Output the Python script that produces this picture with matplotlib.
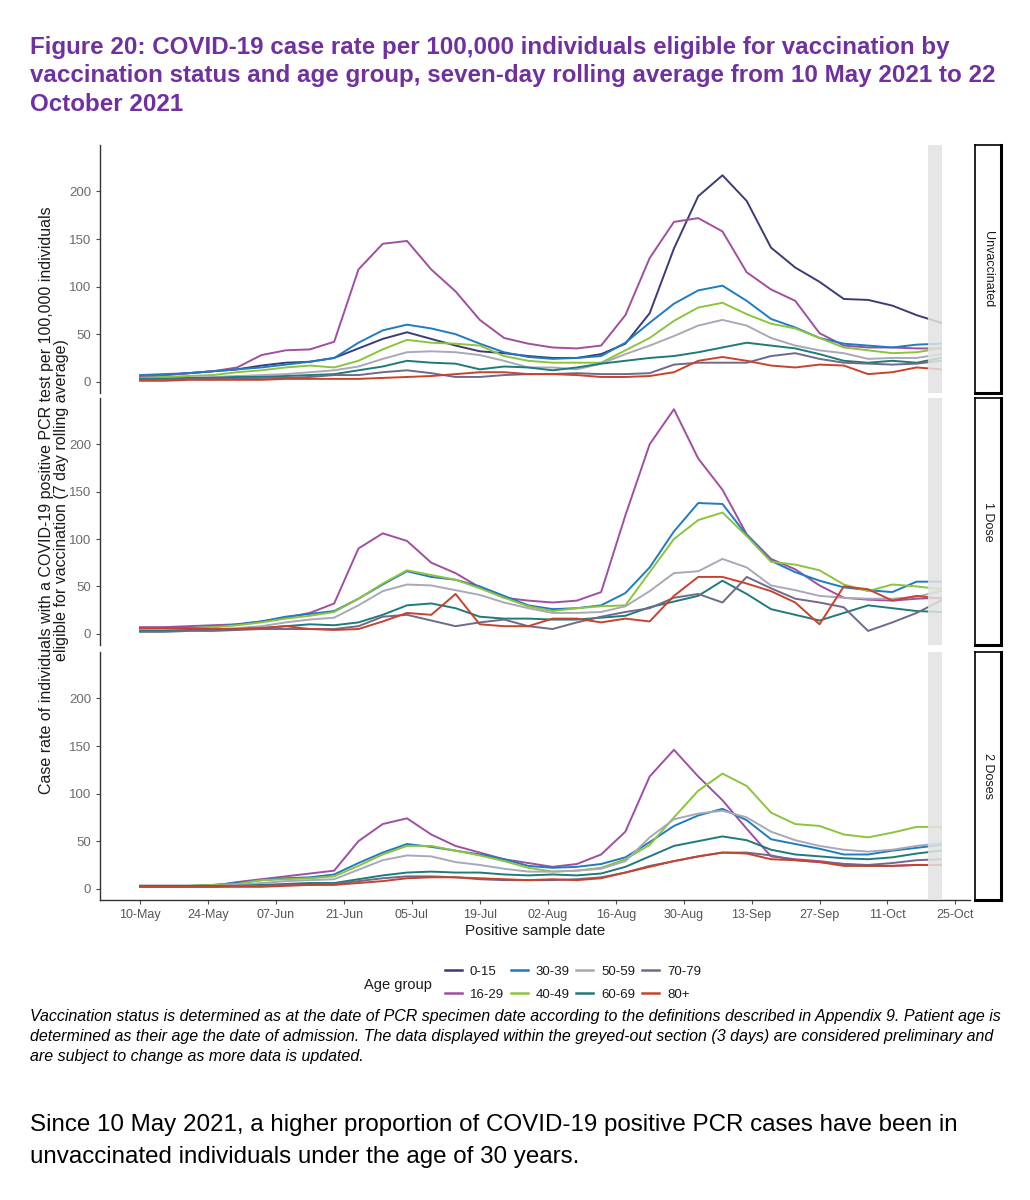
import matplotlib
matplotlib.use("Agg")
import matplotlib.pyplot as plt
import matplotlib.dates as mdates
from matplotlib.lines import Line2D
import pandas as pd
import numpy as np

plt.rcParams['font.family'] = ['Liberation Sans', 'DejaVu Sans']

# positive sample dates, every 5 days from 10 May to 22 Oct 2021
dates = pd.date_range('2021-05-10', '2021-10-22', freq='5D')

age_groups = ['0-15', '16-29', '30-39', '40-49', '50-59', '60-69', '70-79', '80+']
colours = ['#3B3B78', '#A04FA0', '#1F7BC2', '#8CC43C', '#A8A8B8', '#1F7A7A', '#6E6A8A', '#C8432B']
panels = ['Unvaccinated', '1 Dose', '2 Doses']

# ---- Unvaccinated ----
unvax = {
    '0-15':  [5, 7, 9, 11, 13, 17, 20, 21, 25, 35, 45, 52, 45, 38, 32, 30, 27, 25, 25, 29, 40,
              72, 140, 195, 217, 190, 141, 120, 105, 87, 86, 80, 70, 62],
    '16-29': [5, 7, 9, 11, 15, 28, 33, 34, 42, 118, 145, 148, 118, 95, 65, 46, 40, 36, 35, 38, 70,
              130, 168, 172, 158, 115, 97, 85, 51, 38, 36, 36, 35, 35],
    '30-39': [7, 8, 9, 11, 13, 15, 18, 21, 25, 41, 54, 60, 56, 50, 40, 31, 26, 24, 25, 27, 41,
              62, 82, 96, 101, 85, 66, 57, 46, 40, 38, 36, 39, 40],
    '40-49': [4, 5, 6, 7, 10, 12, 15, 17, 15, 22, 34, 44, 41, 40, 38, 27, 22, 20, 20, 20, 33,
              46, 64, 78, 83, 71, 61, 56, 46, 36, 33, 30, 31, 35],
    '50-59': [3, 3, 4, 5, 6, 7, 8, 10, 12, 16, 24, 31, 32, 31, 28, 22, 15, 15, 13, 19, 29,
              38, 48, 59, 65, 59, 46, 38, 33, 30, 24, 25, 25, 29],
    '60-69': [3, 3, 4, 4, 5, 5, 6, 7, 8, 12, 16, 22, 20, 19, 13, 16, 15, 12, 15, 19, 22,
              25, 27, 31, 36, 41, 38, 35, 29, 22, 20, 22, 20, 25],
    '70-79': [2, 2, 3, 3, 3, 4, 4, 5, 7, 7, 10, 12, 9, 5, 5, 7, 8, 8, 9, 8, 8,
              9, 18, 20, 20, 20, 27, 30, 24, 20, 19, 18, 19, 22],
    '80+':   [1, 1, 2, 2, 2, 2, 3, 3, 3, 3, 4, 5, 6, 8, 10, 10, 8, 8, 7, 5, 5,
              6, 10, 22, 26, 22, 17, 15, 18, 17, 8, 10, 15, 13],
}

# ---- 1 Dose ----
dose1 = {
    '16-29': [7, 7, 8, 9, 10, 13, 17, 22, 32, 90, 106, 98, 75, 64, 49, 38, 35, 33, 35, 44, 125,
              200, 237, 185, 152, 105, 79, 68, 51, 38, 36, 35, 37, 38],
    '30-39': [5, 5, 6, 7, 10, 13, 18, 21, 24, 37, 52, 66, 60, 57, 50, 40, 30, 26, 27, 30, 43,
              70, 108, 138, 137, 104, 77, 65, 56, 49, 46, 44, 55, 55],
    '40-49': [5, 5, 6, 7, 9, 12, 16, 19, 23, 37, 53, 67, 62, 57, 48, 38, 29, 24, 27, 29, 30,
              65, 100, 120, 128, 103, 76, 73, 67, 52, 45, 52, 50, 47],
    '50-59': [3, 4, 4, 5, 6, 8, 12, 15, 17, 30, 45, 52, 51, 46, 41, 33, 27, 22, 22, 23, 29,
              45, 64, 66, 79, 70, 51, 46, 40, 38, 37, 37, 39, 45],
    '60-69': [3, 3, 4, 4, 5, 6, 8, 10, 9, 12, 20, 30, 32, 27, 18, 16, 16, 15, 15, 17, 19,
              28, 34, 40, 56, 42, 26, 20, 14, 22, 30, 27, 24, 23],
    '70-79': [2, 2, 3, 3, 4, 5, 5, 5, 5, 8, 18, 20, 14, 8, 12, 15, 8, 5, 12, 18, 23,
              27, 38, 42, 33, 60, 48, 37, 33, 28, 3, 12, 22, 35],
    '80+':   [6, 6, 6, 5, 5, 6, 8, 5, 4, 5, 13, 22, 20, 42, 10, 8, 8, 16, 16, 12, 16,
              13, 40, 60, 60, 53, 45, 33, 10, 50, 47, 35, 40, 37],
}

# ---- 2 Doses ----
dose2 = {
    '16-29': [3, 3, 3, 3, 7, 10, 13, 16, 19, 50, 68, 74, 57, 45, 38, 31, 27, 23, 26, 36, 60,
              118, 146, 118, 93, 63, 34, 31, 29, 26, 24, 24, 25, 25],
    '30-39': [3, 3, 3, 4, 6, 9, 11, 12, 15, 27, 38, 47, 44, 40, 36, 31, 24, 22, 23, 26, 33,
              49, 66, 77, 84, 72, 52, 47, 42, 36, 36, 40, 43, 46],
    '40-49': [3, 3, 3, 4, 5, 9, 10, 11, 13, 24, 36, 45, 45, 40, 35, 29, 22, 18, 19, 22, 31,
              46, 75, 103, 121, 108, 80, 68, 66, 57, 54, 59, 65, 65],
    '50-59': [3, 3, 3, 3, 4, 6, 8, 9, 10, 20, 30, 35, 34, 28, 25, 21, 18, 18, 19, 21, 29,
              54, 73, 79, 82, 75, 60, 51, 45, 41, 39, 41, 45, 48],
    '60-69': [3, 3, 3, 3, 3, 4, 5, 6, 6, 10, 14, 17, 18, 17, 17, 15, 14, 15, 14, 16, 23,
              34, 45, 50, 55, 51, 41, 36, 34, 32, 31, 33, 37, 40],
    '70-79': [2, 2, 2, 2, 3, 3, 4, 4, 5, 8, 11, 13, 13, 12, 10, 9, 9, 9, 10, 12, 17,
              24, 29, 34, 38, 38, 35, 30, 28, 26, 25, 27, 30, 31],
    '80+':   [2, 2, 2, 2, 2, 2, 3, 4, 4, 6, 8, 11, 12, 12, 11, 10, 9, 10, 9, 11, 17,
              23, 29, 34, 38, 37, 31, 30, 28, 24, 24, 24, 25, 25],
}

panel_data = [unvax, dose1, dose2]

xticks = pd.date_range('2021-05-10', '2021-10-25', freq='14D')
grey_start = pd.Timestamp('2021-10-19 07:00')
grey_end = pd.Timestamp('2021-10-22 05:00')

W, H = 1030, 1200
fig = plt.figure(figsize=(W / 100, H / 100), dpi=100)

def box(x0, y0, x1, y1):
    # pixel box (top-left origin) -> figure fraction rect
    return [x0 / W, 1 - y1 / H, (x1 - x0) / W, (y1 - y0) / H]

panel_px = [(145, 393), (398, 645), (652, 900)]
x0 = pd.Timestamp('2021-05-10')
xmin = mdates.date2num(x0) - 8.25
xmax = mdates.date2num(x0) + 171

axes = []
for i, (top, bot) in enumerate(panel_px):
    ax = fig.add_axes(box(100, top, 970, bot))
    data = panel_data[i]
    for ag, col in zip(age_groups, colours):
        if ag in data:
            ax.plot(dates, data[ag], color=col, lw=1.4, solid_joinstyle='round')
    ax.axvspan(grey_start, grey_end, color='#E2E2E2', alpha=0.85, lw=0, zorder=5)
    ax.set_xlim(xmin, xmax)
    ax.set_ylim(-11.85, 248.85)
    ax.set_yticks([0, 50, 100, 150, 200])
    ax.set_xticks(xticks)
    ax.xaxis.set_major_formatter(mdates.DateFormatter('%d-%b'))
    for s in ['top', 'right']:
        ax.spines[s].set_visible(False)
    ax.spines['left'].set_color('#333333')
    ax.spines['left'].set_linewidth(1.0)
    ax.tick_params(axis='both', colors='#4D4D4D', labelsize=9.5, length=3, width=0.8,
                   labelcolor='#6b6b6b')
    if i < 2:
        ax.spines['bottom'].set_visible(False)
        ax.tick_params(axis='x', bottom=False, labelbottom=False)
    else:
        ax.spines['bottom'].set_color('#333333')
        ax.spines['bottom'].set_linewidth(1.0)
        ax.tick_params(axis='x', labelcolor='#555555', labelsize=9)
    axes.append(ax)

    # facet strip on the right
    sax = fig.add_axes(box(975, top, 1001, bot))
    sax.set_xticks([])
    sax.set_yticks([])
    for s in sax.spines.values():
        s.set_linewidth(1.2)
        s.set_color('black')
    sax.spines['right'].set_linewidth(2.2)
    sax.spines['bottom'].set_linewidth(2.2)
    sax.text(0.5, 0.5, panels[i], rotation=-90, ha='center', va='center',
             fontsize=9, color='#1a1a1a', transform=sax.transAxes)

axes[2].set_xlabel('Positive sample date', fontsize=11, color='#1a1a1a', labelpad=2)

fig.text(54 / W, 1 - 500 / H,
         'Case rate of individuals with a COVID-19 positive PCR test per 100,000 individuals\n'
         'eligible for vaccination (7 day rolling average)',
         rotation=90, ha='center', va='center', fontsize=11.5, color='#1a1a1a',
         linespacing=1.05, multialignment='center')

# title
fig.text(30 / W, 1 - 36 / H,
         'Figure 20: COVID-19 case rate per 100,000 individuals eligible for vaccination by\n'
         'vaccination status and age group, seven-day rolling average from 10 May 2021 to 22\n'
         'October 2021',
         ha='left', va='top', fontsize=17.4, fontweight='bold', color='#7030A0',
         linespacing=1.3)

# legend
handles = [Line2D([0], [0], color=c, lw=1.8) for c in colours]
fig.text(398 / W, 1 - 985 / H, 'Age group', ha='center', va='center', fontsize=10.5,
         color='#1a1a1a')
fig.legend(handles, age_groups, ncol=4, loc='center left',
           bbox_to_anchor=(433 / W, 1 - 983 / H), frameon=False, fontsize=9.5,
           handlelength=1.3, handletextpad=0.6, columnspacing=0.5, labelspacing=0.8,
           labelcolor='#1a1a1a')

fig.text(30 / W, 1 - 1009 / H,
         'Vaccination status is determined as at the date of PCR specimen date according to the '
         'definitions described in Appendix 9. Patient age is\n'
         'determined as their age the date of admission. The data displayed within the greyed-out '
         'section (3 days) are considered preliminary and\n'
         'are subject to change as more data is updated.',
         ha='left', va='top', fontsize=11.5, style='italic', color='#000000', linespacing=1.4)

fig.text(30 / W, 1 - 1114 / H,
         'Since 10 May 2021, a higher proportion of COVID-19 positive PCR cases have been in\n'
         'unvaccinated individuals under the age of 30 years.',
         ha='left', va='top', fontsize=17.4, color='#000000', linespacing=1.6)

fig.savefig('out.png', dpi=100, facecolor='white')
